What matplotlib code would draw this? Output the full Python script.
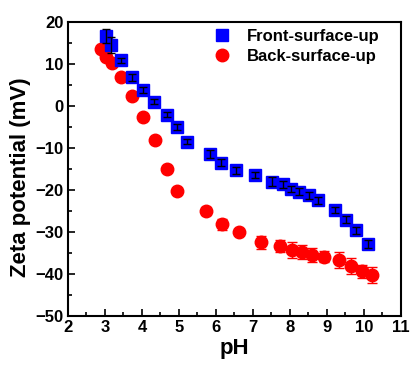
import matplotlib
matplotlib.use("Agg")
import matplotlib.pyplot as plt
from matplotlib.ticker import MultipleLocator

plt.rcParams['font.family'] = ['Liberation Sans', 'DejaVu Sans']
plt.rcParams['font.weight'] = 'bold'

# Front-surface-up series
ph_front = [3.02, 3.16, 3.43, 3.73, 4.03, 4.32, 4.68, 4.94, 5.22, 5.85, 6.14,
            6.55, 7.06, 7.51, 7.80, 8.04, 8.24, 8.51, 8.75, 9.21, 9.52, 9.80, 10.12]
zeta_front = [16.7, 14.5, 10.8, 6.8, 3.8, 1.0, -2.1, -5.1, -8.5, -11.4, -13.5,
              -15.3, -16.5, -18.0, -18.7, -19.8, -20.4, -21.3, -22.5, -24.8, -27.1, -29.6, -32.9]
err_front = [1.7, 1.8, 0.7, 0.8, 0.7, 0.6, 0.6, 0.7, 0.6, 0.9, 0.8,
             0.8, 0.7, 1.0, 0.8, 0.8, 0.8, 0.8, 0.8, 0.8, 0.8, 0.8, 0.9]

# Back-surface-up series
ph_back = [2.89, 3.04, 3.18, 3.43, 3.73, 4.03, 4.34, 4.68, 4.95, 5.73, 6.16,
           6.62, 7.23, 7.72, 8.05, 8.32, 8.59, 8.92, 9.32, 9.66, 9.96, 10.22]
zeta_back = [13.6, 11.7, 10.2, 6.8, 2.3, -2.6, -8.2, -15.0, -20.2, -25.0, -28.2,
             -30.1, -32.5, -33.3, -34.3, -34.8, -35.5, -35.9, -36.7, -38.1, -39.4, -40.3]
err_back = [0.3, 0.3, 0.3, 0.3, 0.3, 0.3, 0.3, 0.3, 0.3, 1.0, 1.3,
            0.5, 1.6, 1.4, 2.0, 1.7, 1.6, 1.3, 2.0, 1.8, 1.5, 1.9]

x_ticks = [2, 3, 4, 5, 6, 7, 8, 9, 10, 11]
y_ticks = [20, 10, 0, -10, -20, -30, -40, -50]

fig = plt.figure(figsize=(4.12, 3.70), dpi=100)
ax = fig.add_axes([0.165, 0.146, 0.808, 0.795])

# markers first, then error bars drawn over them
front, = ax.plot(ph_front, zeta_front, 's', color='#0000FF', ms=8,
                 label='Front-surface-up', zorder=3)
back, = ax.plot(ph_back, zeta_back, 'o', color='#FF0000', ms=9,
                label='Back-surface-up', zorder=2)
ax.errorbar(ph_front, zeta_front, yerr=err_front, fmt='none', ecolor='black',
            elinewidth=1, capsize=3, capthick=1, zorder=4)
ax.errorbar(ph_back, zeta_back, yerr=err_back, fmt='none', ecolor='#FF0000',
            elinewidth=1, capsize=3.5, capthick=1, zorder=2.5)

ax.set_xlim(2, 11)
ax.set_ylim(-50, 20)
ax.set_xticks(x_ticks)
ax.set_yticks(y_ticks)
ax.xaxis.set_minor_locator(MultipleLocator(0.5))
ax.yaxis.set_minor_locator(MultipleLocator(5))
ax.tick_params(which='both', direction='in', top=False, right=False,
               labelsize=12, width=1.2, pad=3)
ax.tick_params(which='major', length=5)
ax.tick_params(which='minor', length=3)
for s in ax.spines.values():
    s.set_linewidth(1.5)

ax.set_xlabel('pH', fontsize=16, fontweight='bold', labelpad=2)
ax.set_ylabel('Zeta potential (mV)', fontsize=16, fontweight='bold',
              va='center')
ax.yaxis.set_label_coords(-0.144, 0.473)

ax.legend([front, back], ['Front-surface-up', 'Back-surface-up'],
          loc='upper left', bbox_to_anchor=(0.437, 0.975),
          frameon=False, handlelength=1.0, handletextpad=1.0,
          borderpad=0, borderaxespad=0, labelspacing=0.3, numpoints=1,
          prop={'weight': 'bold', 'size': 12})

fig.savefig('out.png', dpi=100)
